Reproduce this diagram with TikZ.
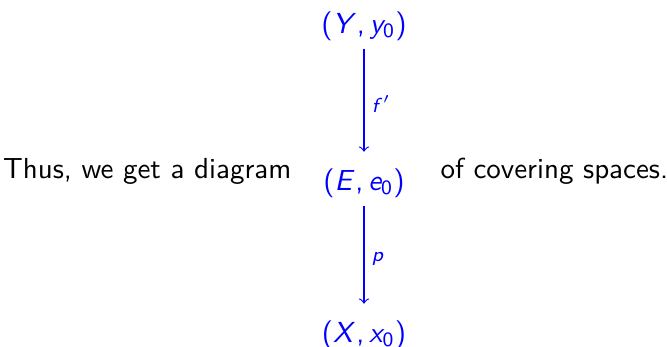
\documentclass[tikz,border=0pt]{standalone}
\usetikzlibrary{positioning}
% sans serif maths, letters in slanted sans
\DeclareMathVersion{sans}
\SetSymbolFont{operators}{sans}{OT1}{cmss}{m}{n}
\SetSymbolFont{letters}{sans}{OT1}{cmss}{m}{sl}
\DeclareMathSymbol{,}{\mathpunct}{operators}{"2C}
\tikzset{
  space/.style ={text=blue, inner sep=1pt, anchor=base},
  cov/.style   ={->, draw=blue, shorten >=4.5pt, shorten <=1.7pt},
  maplbl/.style={font=\scriptsize, text=blue, right=1pt, inner sep=1.5pt},
  words/.style ={font=\sffamily, inner sep=0pt},
}
\begin{document}
\mathversion{sans}
\begin{tikzpicture}[x=0.345pt, y=-0.345pt]
  \useasboundingbox (0,0) rectangle (667,347);
  % the three spaces
  \node[space] (Y) at (364,33)  {$(Y,y_0)$};
  \node[space] (E) at (364,190) {$(E,e_0)$};
  \node[space] (X) at (364,342) {$(X,x_0)$};
  \draw[cov] (Y) -- node[maplbl]{$f'$} (E);
  \draw[cov] (E) -- node[maplbl]{$p$} (X);
  % sentence round it
  \node[words, anchor=base east] (pre) at (292,178) {Thus, we get a diagram};
  \node[words, anchor=base west] (post) at (440,178) {of covering spaces.};
\end{tikzpicture}
\end{document}
